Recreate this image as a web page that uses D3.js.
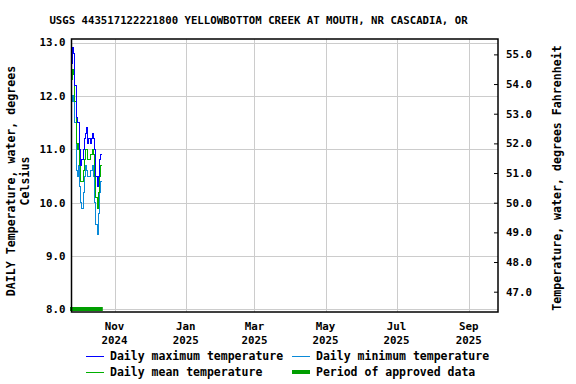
<!DOCTYPE html>
<html><head><meta charset="utf-8">
<script src="https://cdn.jsdelivr.net/npm/d3@7"></script>
<style>
body{margin:0;background:#fff;}
svg{display:block;}
text{font-family:"DejaVu Sans Mono","Liberation Mono",monospace;font-weight:bold;fill:#000;}
</style></head>
<body>
<script>
const title = "USGS 443517122221800 YELLOWBOTTOM CREEK AT MOUTH, NR CASCADIA, OR";
const startDate = "2024-09-25";
const dailyMax  = [12.6,12.9,12.8,12.2,11.6,11.5,11.5,11.0,10.7,10.8,11.0,11.2,11.3,11.4,11.1,11.2,11.1,11.2,11.3,11.2,11.0,10.5,10.3,10.5,10.8,10.9];
const dailyMin  = [12.0,11.9,12.0,11.5,10.6,10.5,10.7,10.3,10.0,9.9,10.2,10.5,10.7,10.6,10.5,10.5,10.6,10.6,10.7,10.5,10.0,9.6,9.4,9.8,10.2,10.4];
const dailyMean = [12.3,12.5,12.4,11.9,11.1,11.0,11.1,10.7,10.4,10.4,10.6,10.8,11.0,11.0,10.8,10.8,10.9,10.9,11.0,10.9,10.5,10.1,9.9,10.2,10.5,10.7];
const celsiusTicks = [8.0,9.0,10.0,11.0,12.0,13.0];
const fahrenheitTicks = [47.0,48.0,49.0,50.0,51.0,52.0,53.0,54.0,55.0];
const monthTicks = [["2024-11-01","Nov","2024"],["2025-01-01","Jan","2025"],["2025-03-01","Mar","2025"],["2025-05-01","May","2025"],["2025-07-01","Jul","2025"],["2025-09-01","Sep","2025"]];
const legendItems = [["Daily maximum temperature","#0000ff",1],["Daily minimum temperature","#0a8ad8",1],["Daily mean temperature","#00b000",1],["Period of approved data","#009e00",4]];

const W=576,H=384;
const L=71.5,R=498,T=39,B=312;
const parse = d3.utcParse("%Y-%m-%d");
const x = d3.scaleUtc().domain([parse("2024-09-25"), parse("2025-09-26")]).range([L,R]);
const y = d3.scaleLinear().domain([7.953,13.066]).range([B,T]);
const yF = d3.scaleLinear().domain([7.953*1.8+32,13.066*1.8+32]).range([B,T]);

const svg = d3.select("body").append("svg").attr("width",W).attr("height",H);

svg.append("text").attr("x",258.5).attr("y",24).attr("text-anchor","middle").attr("font-size",10.7).text(title);

// grid
const g = svg.append("g");
g.selectAll(".hg").data(celsiusTicks).join("line")
 .attr("x1",L).attr("x2",R).attr("y1",d=>Math.round(y(d))+0.5).attr("y2",d=>Math.round(y(d))+0.5)
 .attr("stroke","#cccccc").attr("stroke-width",1);
g.selectAll(".vg").data(monthTicks).join("line")
 .attr("y1",T).attr("y2",B).attr("x1",d=>Math.round(x(parse(d[0])))+0.5).attr("x2",d=>Math.round(x(parse(d[0])))+0.5)
 .attr("stroke","#cccccc").attr("stroke-width",1);

// data
const d0 = parse(startDate);
function series(arr){
  const pts = arr.map((v,i)=>({d:d3.utcDay.offset(d0,i),v}));
  pts.push({d:d3.utcDay.offset(d0,arr.length),v:arr[arr.length-1]});
  return pts;
}
const line = d3.line().x(p=>x(p.d)).y(p=>y(p.v)).curve(d3.curveStepAfter);
[[dailyMin,legendItems[1][1]],[dailyMean,legendItems[2][1]],[dailyMax,legendItems[0][1]]].forEach(([arr,c])=>{
  svg.append("path").attr("d",line(series(arr))).attr("fill","none").attr("stroke",c).attr("stroke-width",1).attr("shape-rendering","crispEdges");
});

// approved period bar
svg.append("line").attr("x1",x(d0)-1.5).attr("x2",x(d3.utcDay.offset(d0,dailyMean.length))+1)
 .attr("y1",y(8.0)-0.5).attr("y2",y(8.0)-0.5).attr("stroke",legendItems[3][1]).attr("stroke-width",4);

// frame
svg.append("rect").attr("x",L).attr("y",T).attr("width",R-L).attr("height",B-T).attr("fill","none").attr("stroke","#000").attr("stroke-width",1.5);

// left axis
const la = svg.append("g").attr("transform",`translate(${L},0)`)
 .call(d3.axisLeft(y).tickValues(celsiusTicks).tickFormat(d3.format(".1f")).tickSize(0).tickPadding(6));
la.select(".domain").remove();
la.selectAll("text").attr("font-size",10.8).attr("font-family",null);
// right axis
const ra = svg.append("g").attr("transform",`translate(${R},0)`)
 .call(d3.axisRight(yF).tickValues(fahrenheitTicks).tickFormat(d3.format(".1f")).tickSizeInner(-4).tickSizeOuter(0).tickPadding(8));
ra.select(".domain").remove();
ra.selectAll("line").attr("stroke","#000");
ra.selectAll("text").attr("font-size",10.8).attr("font-family",null);
// bottom axis
const ba = svg.append("g");
ba.selectAll(".m").data(monthTicks).join("text").attr("x",d=>x(parse(d[0]))).attr("y",330).attr("text-anchor","middle").attr("font-size",10.8).text(d=>d[1]);
ba.selectAll(".yr").data(monthTicks).join("text").attr("x",d=>x(parse(d[0]))).attr("y",343.5).attr("text-anchor","middle").attr("font-size",10.8).text(d=>d[2]);

// axis titles
svg.append("text").attr("transform","translate(15,181) rotate(-90)").attr("text-anchor","middle").attr("font-size",11.6).text("DAILY Temperature, water, degrees");
svg.append("text").attr("transform","translate(29,181) rotate(-90)").attr("text-anchor","middle").attr("font-size",11.6).text("Celsius");
svg.append("text").attr("transform","translate(561,178) rotate(-90)").attr("text-anchor","middle").attr("font-size",11.6).text("Temperature, water, degrees Fahrenheit");

// legend
const pos = [[86,356],[292,356],[86,372],[292,372]];
legendItems.forEach((it,i)=>{
  const [lx,ly]=pos[i];
  svg.append("line").attr("x1",lx).attr("x2",lx+18).attr("y1",ly).attr("y2",ly).attr("stroke",it[1]).attr("stroke-width",it[2]).attr("shape-rendering","crispEdges");
  svg.append("text").attr("x",lx+24).attr("y",ly+4).attr("font-size",11.5).text(it[0]);
});
</script>
</body></html>
